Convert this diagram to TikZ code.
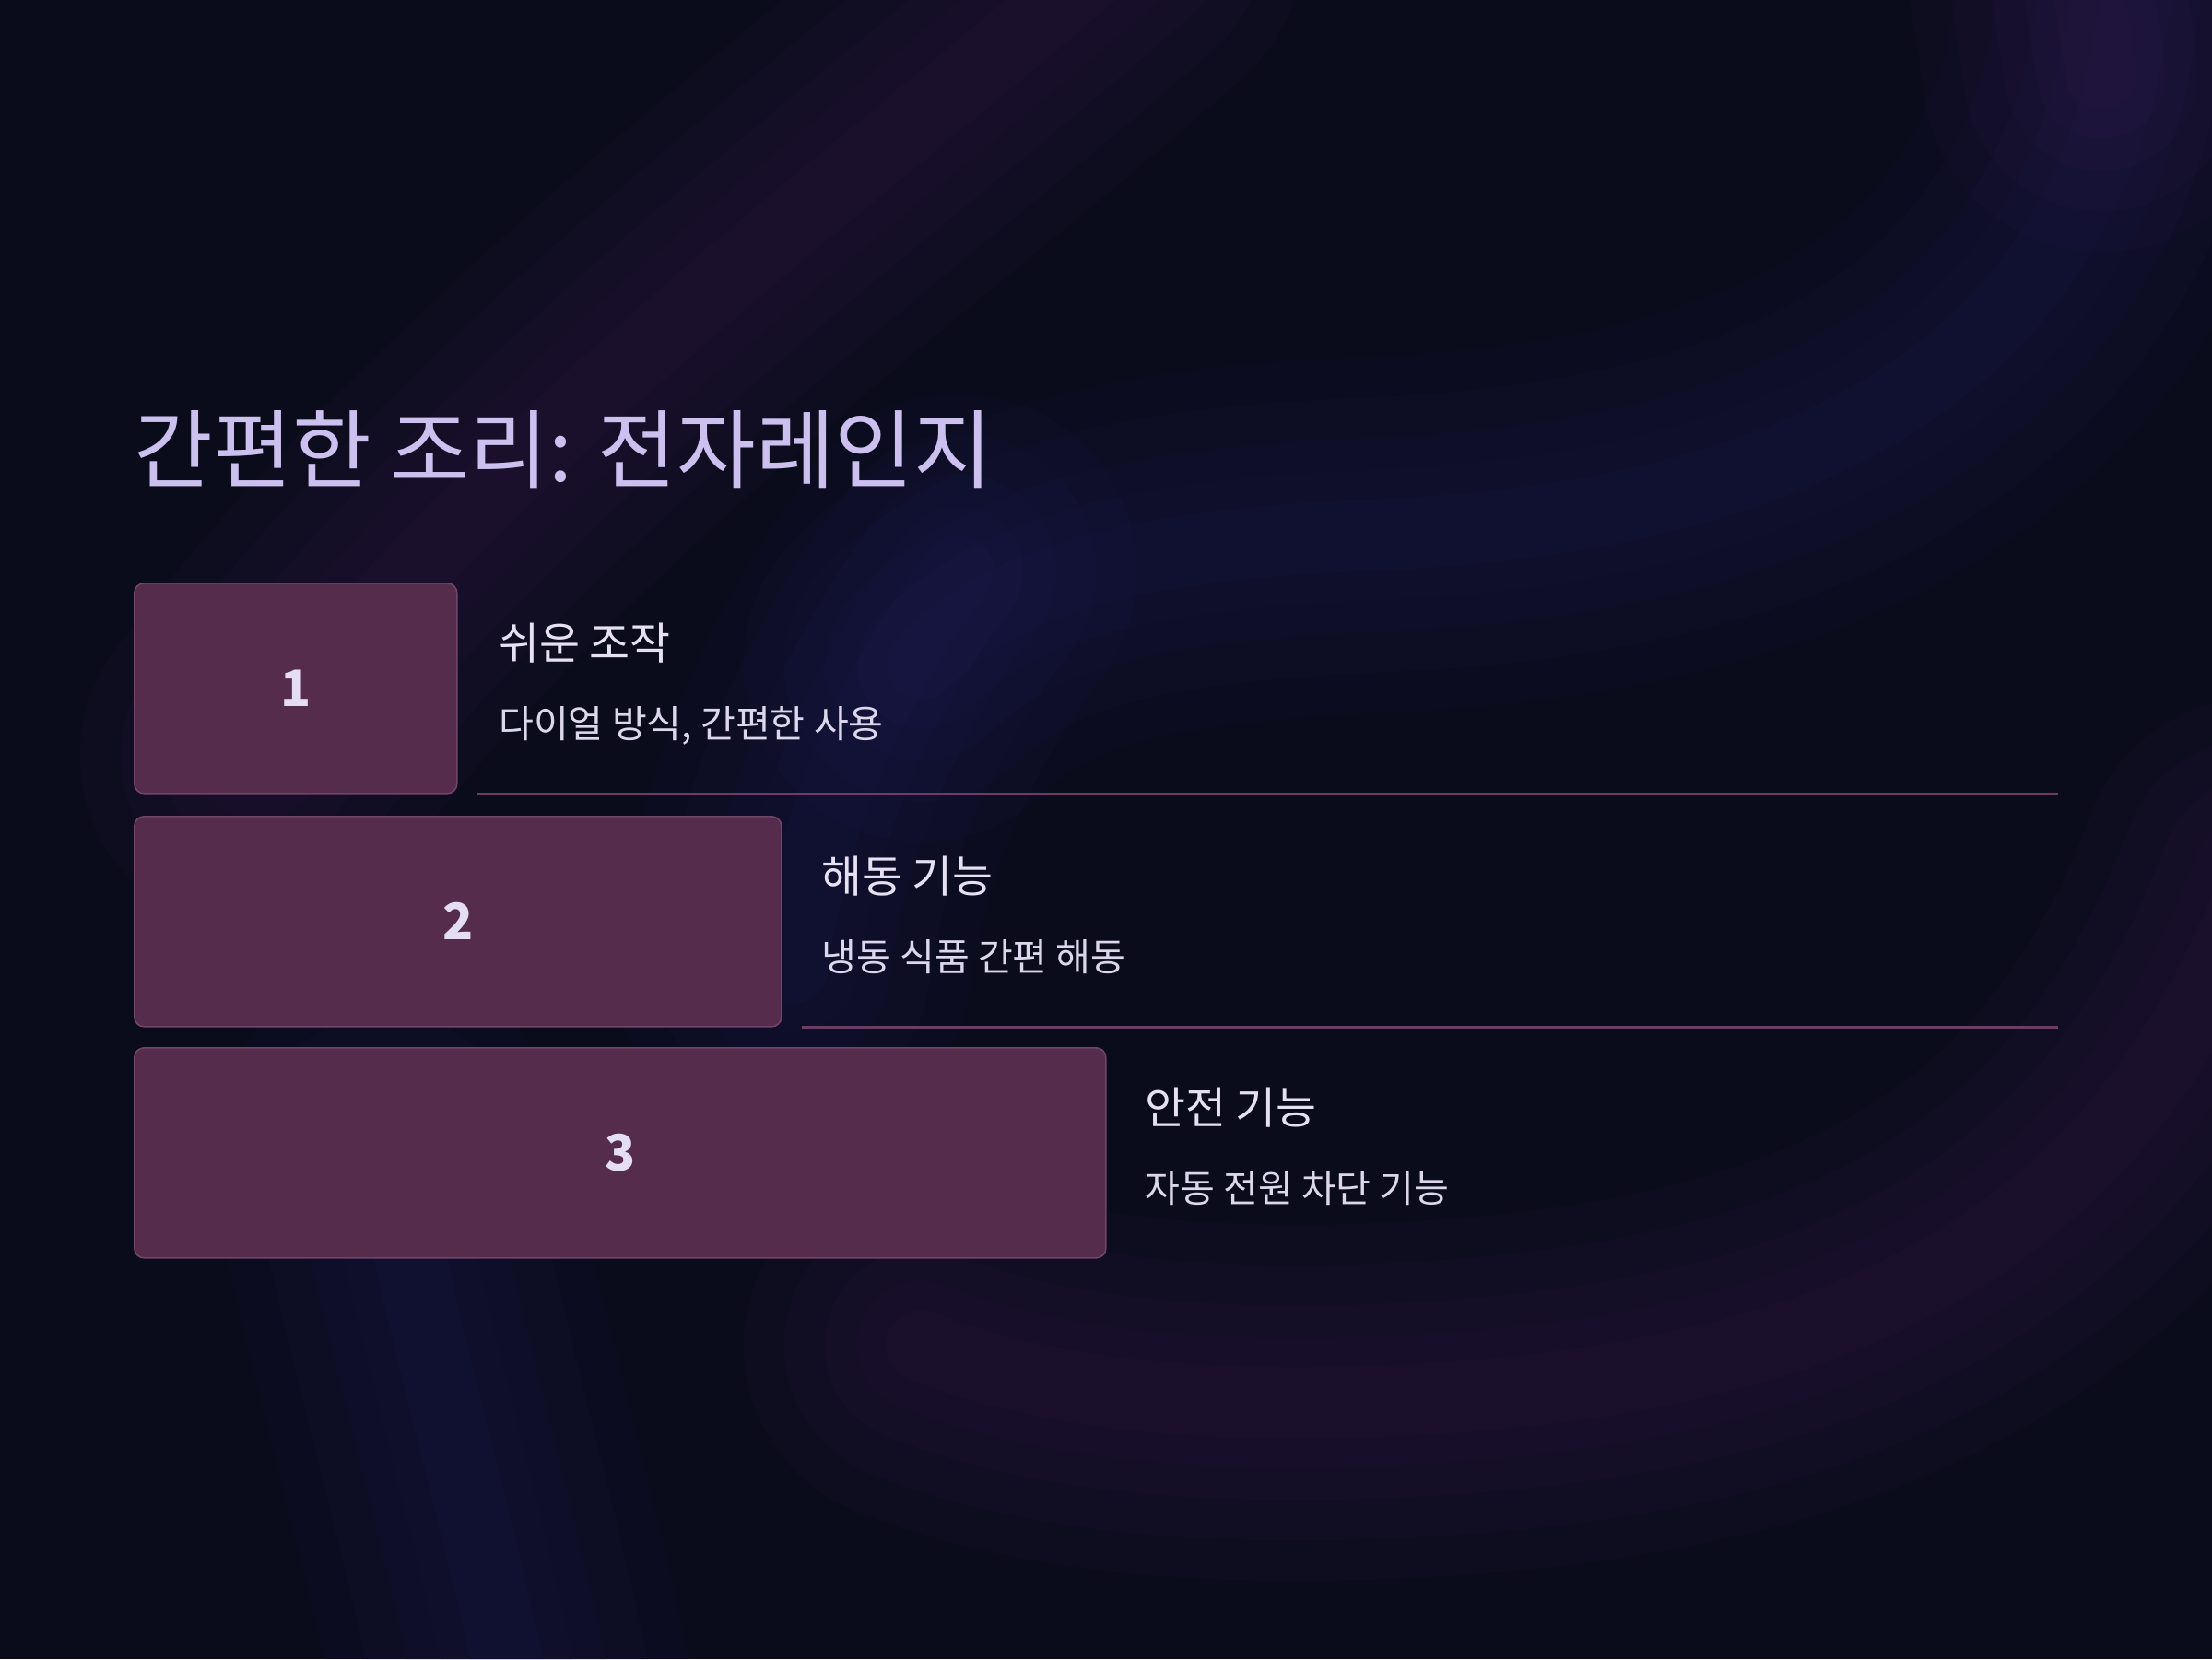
\documentclass[tikz,border=0pt]{standalone}
\usepackage{fontspec}
\setmainfont{Noto Sans CJK KR}
\usetikzlibrary{positioning}

\definecolor{bgnavy}{HTML}{0A0B1B}
\definecolor{boxfill}{HTML}{552C4B}
\definecolor{boxedge}{HTML}{71456A}
\definecolor{ruleline}{HTML}{6A3F63}
\definecolor{titlecol}{HTML}{CBC0EE}
\definecolor{headcol}{HTML}{E6E1F2}
\definecolor{subcol}{HTML}{DCD7EC}
\definecolor{numcol}{HTML}{E4DDF4}
\definecolor{glowpurple}{HTML}{5A2A6E}
\definecolor{glowblue}{HTML}{33307E}

\tikzset{
  numbox/.style={draw=boxedge, fill=boxfill, line width=0.45pt, rounded corners=3pt,
    anchor=north west, minimum height=2.28cm, inner sep=0pt,
    font=\fontsize{15.5}{18}\selectfont\bfseries, text=numcol},
  headtext/.style={anchor=base west, inner sep=0pt, text=headcol, font=\fontsize{13.6}{16}\selectfont},
  subtext/.style={anchor=base west, inner sep=0pt, text=subcol, font=\fontsize{11.7}{14}\selectfont},
  divider/.style={ruleline, line width=0.9pt}
}

% soft glow: several wide strokes on top of each other
\newcommand{\glowband}[2]{%
  \foreach \w in {110,85,60,40,22}{\draw[#1, line width=\w pt, opacity=0.05, line cap=round] #2;}}

\begin{document}
\begin{tikzpicture}
\fill[bgnavy] (0,0) rectangle (24,-18);
\useasboundingbox (0,0) rectangle (24,-18);
% Background glows
\glowband{glowpurple}{(12.2,0.6) .. controls (9.5,-1.8) and (5.5,-4.6) .. (2.8,-8.2)}
\glowband{glowblue}{(23.2,0.5) .. controls (23,-4) and (19.5,-5.6) .. (15,-5.8) .. controls (12.5,-5.9) and (11,-6.2) .. (10,-7.2)}
\glowband{glowpurple}{(24.5,-9.5) .. controls (23,-13.5) and (20,-15) .. (15,-15.2) .. controls (12.5,-15.3) and (11,-15) .. (10,-14.6)}
\glowband{glowblue}{(4.2,-12.5) .. controls (4.6,-14.5) and (5.2,-16.5) .. (5.6,-18.5)}
\glowband{glowblue}{(10.4,-6.2) .. controls (9.4,-7.5) and (8.8,-9) .. (8.6,-10.5)}
\glowband{glowpurple}{(22.6,0.5) -- (22.8,-0.8)}

% Title
\node[anchor=base west, inner sep=0pt, text=titlecol, font=\fontsize{26.5}{32}\selectfont] (title) at (1.45,-5.22) {간편한 조리: 전자레인지};

% Number boxes
\coordinate (edge) at (22.33,0);
\node[numbox, minimum width=3.50cm] (box1) at (1.45,-6.32) {1};
\node[numbox, minimum width=7.02cm] (box2) at (1.45,-8.85) {2};
\node[numbox, minimum width=10.54cm] (box3) at (1.45,-11.36) {3};

% Texts beside the boxes
\node[headtext] (head1) at ([shift={(0.44,-0.83)}]box1.north east) {쉬운 조작};
\node[subtext] (sub1) at ([shift={(0.44,-1.68)}]box1.north east) {다이얼 방식, 간편한 사용};
\node[headtext] (head2) at ([shift={(0.42,-0.83)}]box2.north east) {해동 기능};
\node[subtext] (sub2) at ([shift={(0.42,-1.68)}]box2.north east) {냉동 식품 간편 해동};
\node[headtext] (head3) at ([shift={(0.41,-0.83)}]box3.north east) {안전 기능};
\node[subtext] (sub3) at ([shift={(0.41,-1.68)}]box3.north east) {자동 전원 차단 기능};

% Divider lines
\coordinate (l1) at ([xshift=0.21cm]box1.south east);
\coordinate (l2) at ([xshift=0.21cm]box2.south east);
\draw[divider] (l1) -- (edge |- l1);
\draw[divider] (l2) -- (edge |- l2);
\end{tikzpicture}
\end{document}
